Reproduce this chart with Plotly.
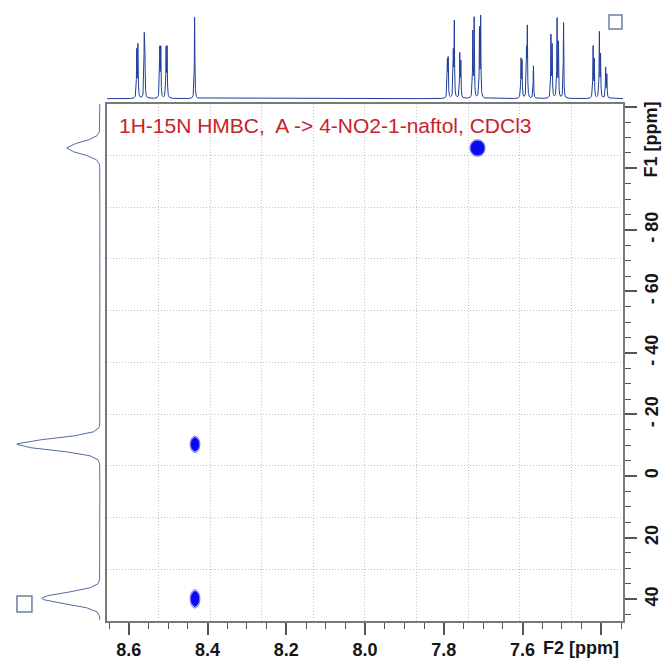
import numpy as np
import plotly.graph_objects as go

# ---------------- data ----------------
# 1H (F2) projection: line positions (ppm) and relative heights
h1_ppm = [8.5800, 8.5770, 8.5610, 8.5595,
          8.5215, 8.5190, 8.5055, 8.5030,
          8.4330,
          7.7910, 7.7890, 7.7760, 7.7735, 7.7595, 7.7570,
          7.7265, 7.7230, 7.7095, 7.7065,
          7.6040, 7.6015, 7.5900, 7.5880, 7.5725,
          7.5280, 7.5250, 7.5125, 7.5090, 7.4960,
          7.4210, 7.4180, 7.4050, 7.4020, 7.3890, 7.3860]
h1_int = [0.58, 0.64, 0.68, 0.58,
          0.60, 0.60, 0.59, 0.59,
          1.00,
          0.44, 0.45, 0.54, 0.92, 0.53, 0.43,
          0.80, 0.95, 0.81, 0.96,
          0.46, 0.43, 0.55, 0.82, 0.40,
          0.74, 0.62, 0.96, 0.66, 0.93,
          0.62, 0.46, 0.78, 0.50, 0.37, 0.28]
h1_fwhm = 0.0015

# 15N (F1) projection
n15_ppm = [-106.6, -10.3, 39.7]
n15_int = [0.40, 1.00, 0.70]
n15_sigma = 1.8
n15_step = 1.3

# 2D cross peaks (F2 ppm, F1 ppm, intensity, line widths)
cp_h = [7.721, 7.708, 8.432, 8.432]
cp_n = [-106.6, -106.6, -10.3, 39.9]
cp_int = [1.0, 1.0, 1.0, 1.0]
cp_sh = [0.0080, 0.0080, 0.0078, 0.0078]
cp_sn = [1.50, 1.50, 1.70, 1.90]

# axes
x_range = [8.656, 7.345]
y_range = [47.1, -121.0]
x_tickvals = [8.6, 8.4, 8.2, 8.0, 7.8, 7.6, 7.4]
x_ticktext = ["8.6", "8.4", "8.2", "8.0", "7.8", "7.6", ""]
y_tickvals = [-120, -100, -80, -60, -40, -20, 0, 20, 40]
y_ticktext = ["", "", "- 80", "- 60", "- 40", "- 20", "0", "20", "40"]
title_text = "1H-15N HMBC,\u00a0 A -> 4-NO2-1-naftol, CDCl3"

# ---------------- build curves ----------------
xh = np.arange(x_range[1], x_range[0], 0.0003)
hw = h1_fwhm / 2
yh = np.zeros_like(xh)
for p, a in zip(h1_ppm, h1_int):
    yh += a * hw**2 / ((xh - p)**2 + hw**2)
yh = yh / yh.max()

yn = np.sort(np.concatenate([np.arange(y_range[1], y_range[0], n15_step), n15_ppm]))
xn = np.zeros_like(yn)
for p, a in zip(n15_ppm, n15_int):
    xn += a * np.exp(-((yn - p)**2) / (2 * n15_sigma**2))

# 2D grid local around cross peaks
gx = np.unique(np.concatenate([np.linspace(c - 0.045, c + 0.045, 46) for c in cp_h]).round(5))
gy = np.unique(np.concatenate([np.linspace(c - 9, c + 9, 46) for c in cp_n]).round(3))
GX, GY = np.meshgrid(gx, gy)
Z = np.zeros_like(GX)
for h, n, a, sh, sn in zip(cp_h, cp_n, cp_int, cp_sh, cp_sn):
    Z += a * np.exp(-((GX - h)**2) / (2 * sh**2) - ((GY - n)**2) / (2 * sn**2))
Z = np.clip(Z, 0, 1)

# ---------------- figure ----------------
FW, FH = 662, 660
ML, MR, MT, MB = 0, 38, 0, 37
PW, PH = FW - ML - MR, FH - MT - MB  # 624 x 623

def px(xp):
    return xp / PW

def py(yp):
    return (PH - yp) / PH

fig = go.Figure()

fig.add_trace(go.Contour(
    x=gx, y=gy, z=Z, xaxis="x", yaxis="y",
    zmin=0, zmax=1,
    contours=dict(start=0.3, end=0.95, size=0.13, coloring="fill", showlines=True),
    line=dict(color="#0a0af0", width=0.6),
    colorscale=[[0, "rgba(255,255,255,0)"], [0.27, "rgba(255,255,255,0)"],
                [0.28, "#0a0af5"], [1, "#0a0af5"]],
    showscale=False, hoverinfo="skip"))

fig.add_trace(go.Scatter(x=xh, y=yh, xaxis="x", yaxis="y3", mode="lines",
                         line=dict(color="#1f3d99", width=1), hoverinfo="skip",
                         showlegend=False))
fig.add_trace(go.Scatter(x=xn, y=yn, xaxis="x4", yaxis="y", mode="lines",
                         line=dict(color="#4f6b9c", width=1), hoverinfo="skip",
                         showlegend=False))
fig.add_trace(go.Scatter(x=[], y=[], xaxis="x2", yaxis="y2", mode="markers",
                         hoverinfo="skip", showlegend=False))

tickfont = dict(family="Liberation Sans, Arial", size=18, color="#151515", weight="bold")
axcol = "#7a7a7a"

xdom = [px(107), 1.0]
ydom = [0.0, py(104)]

grid_x = list(np.linspace(x_range[0], x_range[1], 11)[1:-1])
grid_y = list(np.linspace(y_range[0], y_range[1], 11)[1:-1])

fig.update_layout(
    width=FW, height=FH,
    margin=dict(l=ML, r=MR, t=MT, b=MB, pad=0),
    paper_bgcolor="white", plot_bgcolor="rgba(0,0,0,0)",
    showlegend=False,
    xaxis=dict(domain=xdom, range=x_range, anchor="y", showgrid=False, zeroline=False,
               showline=True, linecolor=axcol, linewidth=1.5, mirror=True,
               tickmode="array", tickvals=x_tickvals, ticktext=x_ticktext,
               ticks="outside", ticklen=12, tickwidth=1.5, tickcolor="#555",
               minor=dict(ticks="outside", ticklen=6, tickwidth=1.2, tickcolor="#555",
                          dtick=0.05, tick0=0, showgrid=False),
               tickfont=tickfont),
    yaxis=dict(domain=ydom, range=y_range, anchor="x", side="right", showgrid=False,
               zeroline=False, showline=True, linecolor=axcol, linewidth=1.5, mirror=True,
               tickmode="array", tickvals=y_tickvals, ticktext=y_ticktext,
               ticks="outside", ticklen=12, tickwidth=1.5, tickcolor="#555",
               minor=dict(ticks="outside", ticklen=6, tickwidth=1.2, tickcolor="#555",
                          dtick=5, tick0=0, showgrid=False),
               tickangle=-90, tickfont=tickfont),
    xaxis2=dict(overlaying="x", range=x_range, anchor="y2", tickmode="array",
                tickvals=grid_x, showgrid=True, gridcolor="#c4c4c4", griddash="1px,2px",
                gridwidth=1, showticklabels=False, ticks="", zeroline=False, showline=False),
    yaxis2=dict(overlaying="y", range=y_range, anchor="x2", tickmode="array",
                tickvals=grid_y, showgrid=True, gridcolor="#c4c4c4", griddash="1px,2px",
                gridwidth=1, showticklabels=False, ticks="", zeroline=False, showline=False),
    yaxis3=dict(domain=[py(103), py(3)], range=[-0.0476, 1.1429], anchor="x",
                visible=False),
    xaxis4=dict(domain=[0, px(105)], range=[1.2048, -0.0602], anchor="y", visible=False),
)

fig.add_annotation(text=title_text, xref="paper", yref="paper", x=px(117), y=py(126),
                   xanchor="left", yanchor="middle", showarrow=False,
                   font=dict(family="Liberation Sans, Arial", size=21, color="#c8232a"))
fig.add_annotation(text="F2 [ppm]", xref="paper", yref="paper", x=1.0, y=py(650),
                   xanchor="right", yanchor="middle", xshift=-2, showarrow=False,
                   font=tickfont)
fig.add_annotation(text="F1 [ppm]", xref="paper", yref="paper", x=px(652), y=py(140),
                   xanchor="center", yanchor="middle", textangle=-90, showarrow=False,
                   font=tickfont)

sq = dict(type="rect", xref="paper", yref="paper", line=dict(color="#6b7fa8", width=1.5),
          fillcolor="rgba(0,0,0,0)")
fig.add_shape(**sq, x0=px(610), x1=px(623), y0=py(29), y1=py(15))
fig.add_shape(**sq, x0=px(17), x1=px(32), y0=py(614), y1=py(598))

fig.write_html("out.html")
